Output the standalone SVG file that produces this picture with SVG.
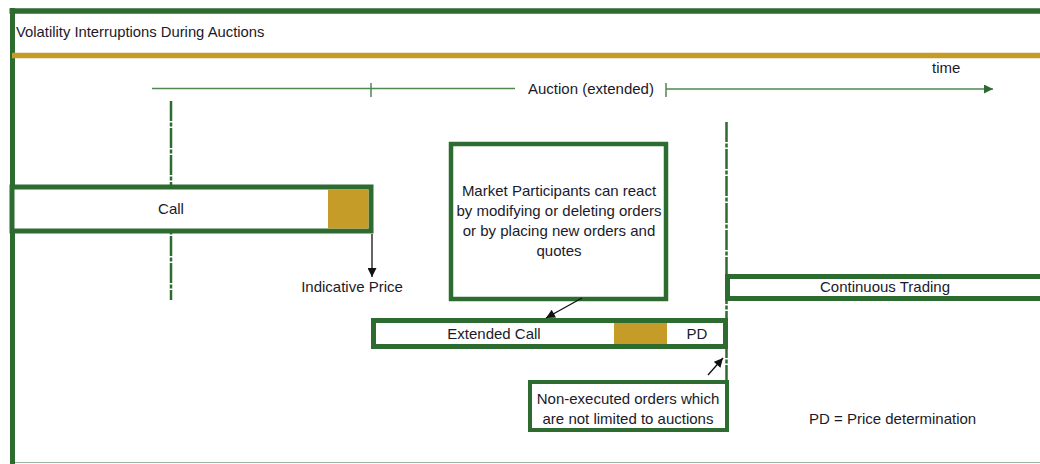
<svg xmlns="http://www.w3.org/2000/svg" width="1040" height="464" viewBox="0 0 1040 464">
<style>
text{font-family:"Liberation Sans",Arial,sans-serif;font-size:15px;fill:#1a1a2a}
.c{text-anchor:middle}
.box{fill:#fff;stroke:#2e6b30;stroke-width:5}
.gold{fill:#c49c27}
.dash{stroke:#2e6b30;stroke-width:2.5;stroke-dasharray:20 1.5 4 1.5;fill:none}
.tl{stroke:#4f8750;stroke-width:1.5;fill:none}
.blk{stroke:#111;stroke-width:1.3;fill:none}
</style>
<defs>
<marker id="ah" viewBox="0 0 10 10" refX="10" refY="5" markerWidth="10" markerHeight="9" markerUnits="userSpaceOnUse" orient="auto"><path d="M0,0 L10,5 L0,10 z" fill="#111"/></marker>
<marker id="gh" viewBox="0 0 10 10" refX="10" refY="5" markerWidth="11" markerHeight="9" markerUnits="userSpaceOnUse" orient="auto"><path d="M0,0 L10,5 L0,10 z" fill="#2e6b30"/></marker>
</defs>
<rect width="1040" height="464" fill="#fff"/>
<g id="frame">
<line x1="12" y1="462.5" x2="1040" y2="462.5" stroke="#9db39d" stroke-width="1.2"/>
<line x1="9.5" y1="11" x2="1040" y2="11" stroke="#2e6b30" stroke-width="5.5"/>
<line x1="12.5" y1="8" x2="12.5" y2="464" stroke="#2e6b30" stroke-width="5"/>
<line x1="12" y1="55.5" x2="1040" y2="55.5" stroke="#c49c27" stroke-width="5.5"/>
<text x="16" y="37" style="font-size:14.8px">Volatility Interruptions During Auctions</text>
</g>
<g id="timeline">
<line class="tl" x1="152" y1="88.5" x2="515" y2="88.5"/>
<line class="tl" x1="371" y1="83" x2="371" y2="97"/>
<line class="tl" x1="666" y1="83" x2="666" y2="97"/>
<line class="tl" x1="666" y1="89" x2="993" y2="89" marker-end="url(#gh)"/>
<text x="528" y="94">Auction (extended)</text>
<text x="932" y="73">time</text>
</g>
<g id="guides">
<line class="dash" x1="171" y1="101" x2="171" y2="300"/>
<line class="dash" x1="726.5" y1="122" x2="726.5" y2="380"/>
</g>
<g id="call">
<rect class="box" x="12" y="187" width="359" height="44"/>
<rect class="gold" x="328" y="189.5" width="40.5" height="39"/>
<text class="c" x="171" y="214">Call</text>
</g>
<g id="indicative-price">
<text class="c" x="352" y="292">Indicative Price</text>
</g>
<g id="market-participants">
<rect class="box" x="451" y="144" width="215" height="155" style="stroke-width:4.5"/>
<text class="c" x="559" y="196">Market Participants can react</text>
<text class="c" x="559" y="216">by modifying or deleting orders</text>
<text class="c" x="559" y="236">or by placing new orders and</text>
<text class="c" x="559" y="256">quotes</text>
</g>
<g id="extended-call">
<rect class="box" x="373.5" y="320.5" width="352" height="26"/>
<rect class="gold" x="614" y="323" width="53" height="21"/>
<text class="c" x="494" y="339">Extended Call</text>
<text class="c" x="697" y="339">PD</text>
</g>
<g id="continuous-trading">
<rect class="box" x="727.5" y="276.5" width="330" height="22"/>
<text class="c" x="885" y="292">Continuous Trading</text>
</g>
<g id="non-executed">
<rect class="box" x="530" y="382" width="197" height="48" style="stroke-width:4"/>
<text class="c" x="628" y="404">Non-executed orders which</text>
<text class="c" x="628" y="424">are not limited to auctions</text>
</g>
<g id="legend">
<text x="809" y="424">PD = Price determination</text>
</g>
<g id="connectors">
<line class="blk" x1="372" y1="234" x2="372" y2="277" marker-end="url(#ah)"/>
<line class="blk" x1="582" y1="298" x2="546" y2="318" marker-end="url(#ah)"/>
<line class="blk" x1="708" y1="375" x2="723" y2="358" marker-end="url(#ah)"/>
</g>
</svg>
